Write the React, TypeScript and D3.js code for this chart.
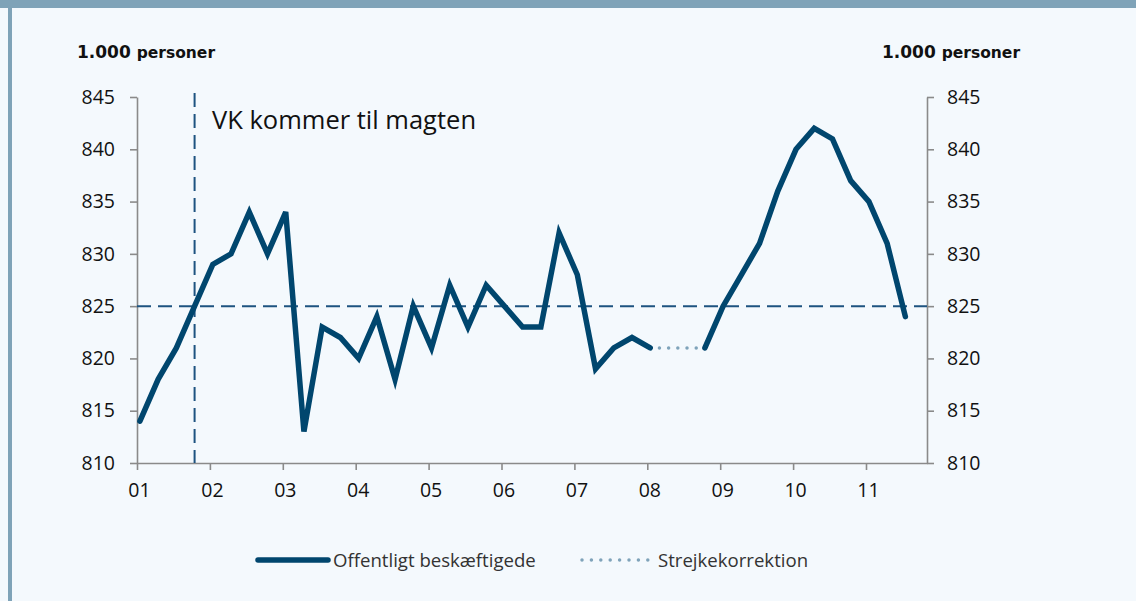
import React, { useRef, useEffect } from 'react';
import * as d3 from 'd3';

// Kvartalsdata, 2001K1 - 2011K3 (1.000 personer)
const aarLabels = ['01', '02', '03', '04', '05', '06', '07', '08', '09', '10', '11'];
const offentligt: (number | null)[] = [
  814, 818, 821, 825,
  829, 830, 834, 830,
  834, 813, 823, 822,
  820, 824, 818, 825,
  821, 827, 823, 827,
  825, 823, 823, 832,
  828, 819, 821, 822,
  821, null, null, 821,
  825, 828, 831, 836,
  840, 842, 841, 837,
  835, 831, 824,
];
// strejkekorrektion 2008K1 - 2008K4
const strejkeStart = 28;
const strejke = [821, 821, 821, 821];
const yTicks = [810, 815, 820, 825, 830, 835, 840, 845];
const refNiveau = 825;
const vkKvartal = 3; // 2001K4

const W = 1136;
const H = 601;
const plot = { left: 137, right: 927, top: 97, bottom: 463 };
const band = '#7fa3b8';
const lineCol = '#00466e';
const dotCol = '#7fa3ba';
const refCol = '#1d5380';
const axisCol = '#8a8a8a';
const tickFont = '"Open Sans", sans-serif';

// position of a quarter on the time axis
const tid = (i: number) => 2001 + i / 4 + 0.04;

const App: React.FC = () => {
  const svgRef = useRef<SVGSVGElement | null>(null);

  useEffect(() => {
    const svg = d3.select(svgRef.current);
    svg.selectAll('*').remove();

    const x = d3.scaleLinear().domain([2001, 2001 + (plot.right - plot.left) / 72.9]).range([plot.left, plot.right]);
    const y = d3.scaleLinear().domain([810, 845]).range([plot.bottom, plot.top]);

    // background + frame
    svg.append('rect').attr('width', W).attr('height', H).attr('fill', '#f4f9fd');
    svg.append('rect').attr('width', W).attr('height', 8).attr('fill', band);
    svg.append('rect').attr('x', 8).attr('y', 8).attr('width', 4).attr('height', H - 8).attr('fill', band);

    // axes
    const styleAxis = (g: d3.Selection<SVGGElement, unknown, null, undefined>) => {
      g.selectAll('.domain').attr('stroke', axisCol).attr('stroke-width', 1.6);
      g.selectAll('.tick line').attr('stroke', axisCol).attr('stroke-width', 1.6);
      g.selectAll('.tick text').attr('fill', '#111').attr('font-size', 19.5).attr('font-family', tickFont);
    };

    svg.append('g')
      .attr('transform', `translate(${plot.left},0)`)
      .call(d3.axisLeft(y).tickValues(yTicks).tickSize(7).tickSizeOuter(0).tickPadding(15))
      .call(styleAxis);

    svg.append('g')
      .attr('transform', `translate(${plot.right},0)`)
      .call(d3.axisRight(y).tickValues(yTicks).tickSize(7).tickSizeOuter(0).tickPadding(13))
      .call(styleAxis);

    const xAxis = svg.append('g')
      .attr('transform', `translate(0,${plot.bottom})`)
      .call(
        d3.axisBottom(x)
          .tickValues(aarLabels.map((_, i) => 2001 + i))
          .tickFormat((_, i) => aarLabels[i])
          .tickSize(7)
          .tickSizeOuter(0)
          .tickPadding(13)
      )
      .call(styleAxis);
    xAxis.selectAll('.tick text').attr('dx', 2);

    // reference lines
    svg.append('line')
      .attr('x1', plot.left).attr('x2', plot.right)
      .attr('y1', y(refNiveau)).attr('y2', y(refNiveau))
      .attr('stroke', refCol).attr('stroke-width', 2).attr('stroke-dasharray', '14,7');
    svg.append('line')
      .attr('x1', x(tid(vkKvartal))).attr('x2', x(tid(vkKvartal)))
      .attr('y1', plot.top - 4).attr('y2', plot.bottom)
      .attr('stroke', refCol).attr('stroke-width', 2).attr('stroke-dasharray', '14,7');

    svg.append('text')
      .attr('x', 212).attr('y', 129)
      .attr('font-family', tickFont).attr('font-size', 25.5).attr('fill', '#111')
      .text('VK kommer til magten');

    // unit labels
    const unit = (xPos: number) => {
      const t = svg.append('text').attr('x', xPos).attr('y', 58)
        .attr('font-family', '"DejaVu Sans", sans-serif').attr('font-weight', 'bold').attr('fill', '#111');
      t.append('tspan').attr('font-size', 17).text('1.000 ');
      t.append('tspan').attr('font-size', 15.5).text('personer');
    };
    unit(77);
    unit(882);

    // series
    const line = d3.line<{ t: number; v: number | null }>()
      .defined(d => d.v != null)
      .x(d => x(d.t))
      .y(d => y(d.v as number));

    svg.append('path')
      .datum(strejke.map((v, i) => ({ t: tid(strejkeStart + i), v })))
      .attr('d', line)
      .attr('fill', 'none')
      .attr('stroke', dotCol)
      .attr('stroke-width', 3.5)
      .attr('stroke-linecap', 'round')
      .attr('stroke-dasharray', '0,9.2');

    svg.append('path')
      .datum(offentligt.map((v, i) => ({ t: tid(i), v })))
      .attr('d', line)
      .attr('fill', 'none')
      .attr('stroke', lineCol)
      .attr('stroke-width', 5.5)
      .attr('stroke-linecap', 'round')
      .attr('stroke-linejoin', 'miter');

    // legend
    const lg = svg.append('g').attr('font-family', tickFont).attr('font-size', 18.6).attr('fill', '#333');
    lg.append('line').attr('x1', 258).attr('x2', 328).attr('y1', 560).attr('y2', 560)
      .attr('stroke', lineCol).attr('stroke-width', 5.5).attr('stroke-linecap', 'round');
    lg.append('text').attr('x', 333).attr('y', 560).attr('dy', '0.35em').text('Offentligt beskæftigede');
    lg.append('line').attr('x1', 582).attr('x2', 648).attr('y1', 560).attr('y2', 560)
      .attr('stroke', dotCol).attr('stroke-width', 3.5).attr('stroke-linecap', 'round')
      .attr('stroke-dasharray', '0,9.4');
    lg.append('text').attr('x', 658).attr('y', 560).attr('dy', '0.35em').text('Strejkekorrektion');
  }, []);

  return (
    <svg
      ref={svgRef}
      width={W}
      height={H}
      style={{ position: 'absolute', left: 0, top: 0, display: 'block' }}
    />
  );
};

export default App;
